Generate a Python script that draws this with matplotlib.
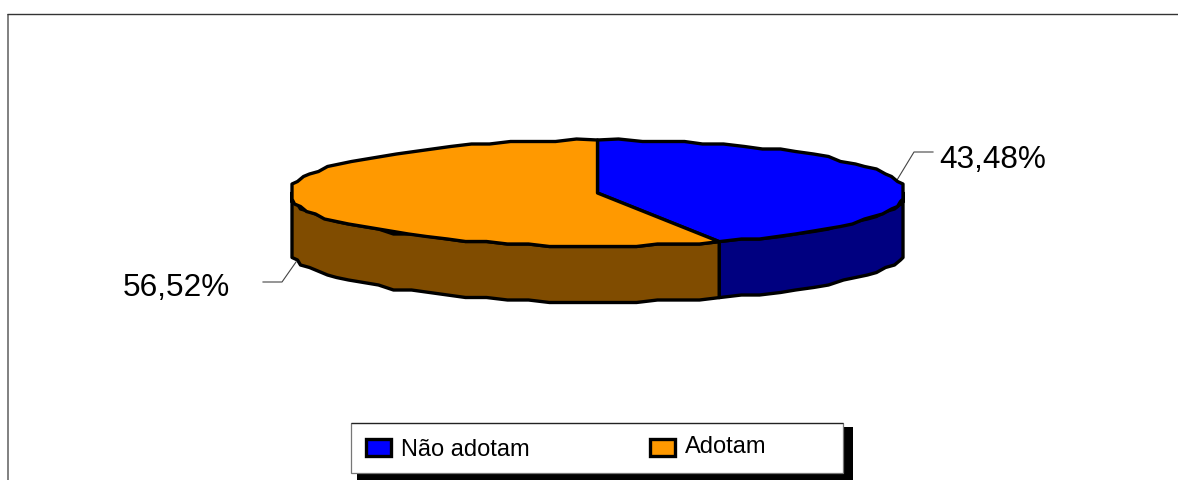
import numpy as np
import matplotlib
matplotlib.use("Agg")
import matplotlib.pyplot as plt
from matplotlib.patches import Polygon, Rectangle
from matplotlib.transforms import Affine2D

plt.rcParams["font.family"] = ["Liberation Sans", "DejaVu Sans"]

# Survey shares
categories = ["Não adotam", "Adotam"]
shares = [43.48, 56.52]
share_labels = ["43,48%", "56,52%"]
top_colors = ["#0000FF", "#FF9900"]
wall_colors = ["#000080", "#804C00"]

W, H = 1178, 481
CX, CY = 597.5, 194.0     # disc centre in pixels
RX, RY = 305.5, 53.0      # ellipse half-axes in pixels
DEPTH = 56.0              # height of the disc wall in pixels
EDGE = 2.4
ARC_STEP = 4.0            # degrees between outline vertices

fig = plt.figure(figsize=(W / 100, H / 100), dpi=100, facecolor="white")
ax = fig.add_axes([0, 0, 1, 1])
ax.set_xlim(0, W)
ax.set_ylim(H, 0)
ax.axis("off")

# Fixed layout elements use the same pixel space, origin top-left
pix = Affine2D().scale(1, -1).translate(0, H)


def arc(lo, hi):
    """Coarse, grid-snapped outline of the ellipse between two angles (degrees,
    measured counter-clockwise on screen from the +x axis)."""
    n = max(int(abs(hi - lo) / ARC_STEP), 1)
    t = np.radians(np.linspace(lo, hi, n + 1))
    x = CX + RX * np.cos(t)
    y = CY - RY * np.sin(t)
    inner = np.arange(1, n)
    # Slight overshoot then a clip squares off the left and right tips
    x[inner] = CX + 1.01 * RX * np.cos(t[inner])
    x[inner] = np.round(x[inner] / 3) * 3 + 0.5
    y[inner] = np.round(y[inner] / 2.5) * 2.5
    return np.c_[np.clip(x, CX - RX, CX + RX), y]


# Slice boundaries, clockwise from twelve o'clock
bounds = 90 - 360 * np.cumsum([0] + shares) / sum(shares)
seam = bounds[1] % 360  # where the two slices meet on the front of the disc

# Side walls: only the front half of the disc shows
wall_spans = [(seam, 360.0), (180.0, seam)]
for (lo, hi), color in zip(wall_spans, wall_colors):
    upper = arc(lo, hi)
    lower = upper[::-1] + [0, DEPTH]
    ax.add_patch(Polygon(np.r_[upper, lower], closed=True, facecolor=color,
                         edgecolor="black", linewidth=EDGE, joinstyle="round", zorder=2))

# Top faces of the slices
for i, color in enumerate(top_colors):
    rim = arc(bounds[i], bounds[i + 1])
    ax.add_patch(Polygon(np.r_[[[CX, CY]], rim], closed=True, facecolor=color,
                         edgecolor="black", linewidth=EDGE, joinstyle="round", zorder=3))

# Outer frame, cut off by the right and bottom of the figure
ax.plot([7.5, 7.5], [H, 15], color="#808080", lw=1.4, transform=pix, zorder=1, solid_capstyle="butt")
ax.plot([7, W], [15, 15], color="#333333", lw=1.0, transform=pix, zorder=1, solid_capstyle="butt")

# Percentage labels with their leader lines
ax.plot([897, 914, 933], [181, 153, 153], color="#444444", lw=0.8, transform=pix, zorder=1)
ax.plot([296, 282, 263], [263, 283, 283], color="#444444", lw=0.8, transform=pix, zorder=1)
ax.text(939, 168, share_labels[0], fontsize=22.7, color="black", transform=pix, ha="left", va="baseline")
ax.text(123, 296, share_labels[1], fontsize=22.7, color="black", transform=pix, ha="left", va="baseline")

# Legend box with a hard drop shadow
ax.add_patch(Rectangle((357, 428), 496, 60, facecolor="black", edgecolor="none", transform=pix, zorder=4))
ax.add_patch(Rectangle((351, 423.5), 492, 50, facecolor="white", edgecolor="#777777",
                       linewidth=0.9, transform=pix, zorder=5))
ax.plot([351, 843], [423.5, 423.5], color="#222222", lw=0.9, transform=pix, zorder=5.5, solid_capstyle="butt")
legend_x = [365, 649]
legend_text_y = [456, 453]
for x, ty, name, color in zip(legend_x, legend_text_y, categories, top_colors):
    ax.add_patch(Rectangle((x + 1, 440), 25, 17, facecolor=color, edgecolor="black",
                           linewidth=EDGE, transform=pix, zorder=6))
    ax.text(x + 36, ty, name, fontsize=17, color="black", transform=pix,
            ha="left", va="baseline", zorder=6)

fig.savefig("out.png", dpi=100, facecolor="white")
